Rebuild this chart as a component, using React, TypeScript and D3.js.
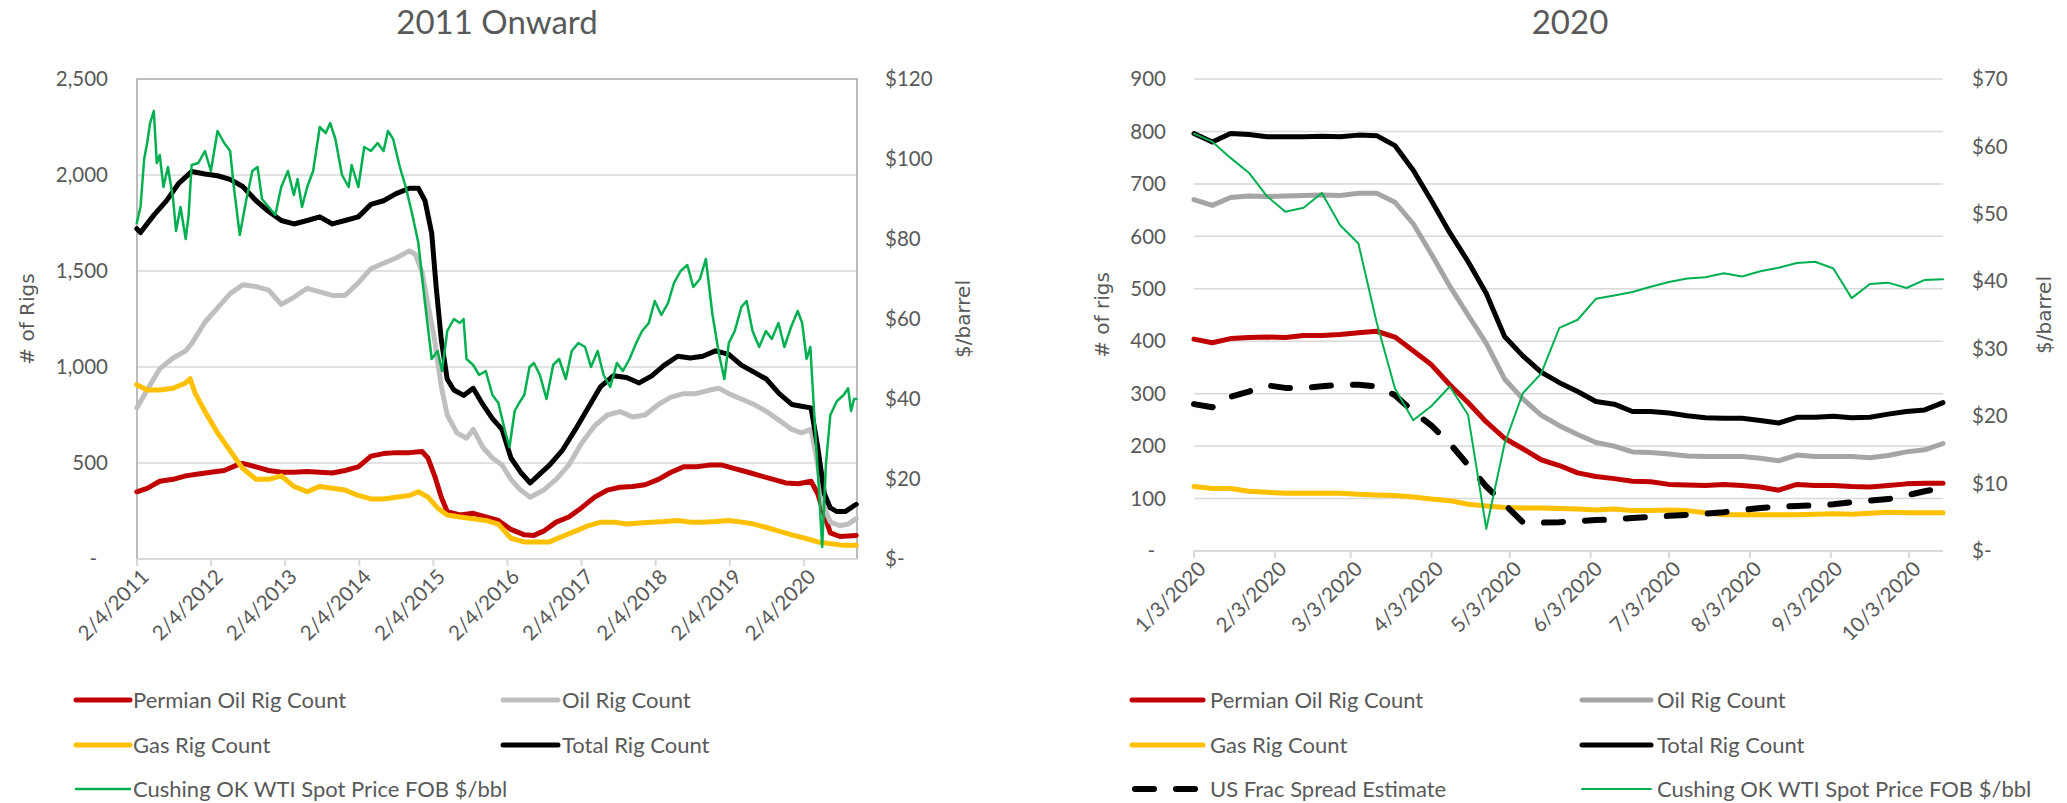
import React from 'react';
import * as d3 from 'd3';

// ---------- LEFT CHART DATA (decimal year, value) ----------
const leftYearTicks = [2011, 2012, 2013, 2014, 2015, 2016, 2017, 2018, 2019, 2020];
const leftYearTickLabels = ['2/4/2011', '2/4/2012', '2/4/2013', '2/4/2014', '2/4/2015', '2/4/2016', '2/4/2017', '2/4/2018', '2/4/2019', '2/4/2020'];
const leftRigTicks = [0, 500, 1000, 1500, 2000, 2500];
const leftRigTickLabels = ['-', '500', '1,000', '1,500', '2,000', '2,500'];
const leftPriceTicks = [0, 20, 40, 60, 80, 100, 120];
const leftPriceTickLabels = ['$-', '$20', '$40', '$60', '$80', '$100', '$120'];

const leftPermian: [number, number][] = [
  [2011.09, 350], [2011.23, 368], [2011.40, 405], [2011.58, 415], [2011.75, 433], [2011.92, 443],
  [2012.09, 452], [2012.27, 461], [2012.44, 489], [2012.52, 498], [2012.70, 480], [2012.87, 461],
  [2013.04, 452], [2013.21, 452], [2013.39, 456], [2013.56, 452], [2013.73, 448], [2013.90, 461],
  [2014.08, 480], [2014.25, 536], [2014.42, 549], [2014.59, 554], [2014.77, 554], [2014.94, 560],
  [2015.02, 526], [2015.11, 433], [2015.20, 322], [2015.28, 247], [2015.45, 229], [2015.63, 238],
  [2015.80, 219], [2015.97, 201], [2016.14, 154], [2016.32, 126], [2016.45, 123], [2016.58, 145],
  [2016.75, 192], [2016.92, 219], [2017.09, 266], [2017.27, 322], [2017.44, 359], [2017.61, 374],
  [2017.78, 378], [2017.95, 387], [2018.13, 415], [2018.30, 452], [2018.47, 480], [2018.64, 480],
  [2018.82, 489], [2018.99, 489], [2019.16, 471], [2019.34, 452], [2019.51, 433], [2019.68, 415],
  [2019.85, 396], [2020.02, 392], [2020.19, 405], [2020.28, 340], [2020.37, 229], [2020.45, 136],
  [2020.58, 117], [2020.80, 123],
];

const leftOil: [number, number][] = [
  [2011.09, 787], [2011.23, 880], [2011.40, 991], [2011.58, 1047], [2011.75, 1084], [2011.83, 1122],
  [2012.01, 1233], [2012.18, 1308], [2012.35, 1382], [2012.52, 1428], [2012.70, 1419], [2012.87, 1400],
  [2013.04, 1326], [2013.21, 1363], [2013.39, 1410], [2013.56, 1391], [2013.73, 1373], [2013.90, 1373],
  [2014.08, 1438], [2014.25, 1512], [2014.42, 1540], [2014.59, 1568], [2014.77, 1605], [2014.85, 1587],
  [2014.94, 1494], [2015.02, 1326], [2015.11, 1140], [2015.20, 898], [2015.28, 750], [2015.41, 657],
  [2015.54, 629], [2015.63, 675], [2015.76, 582], [2015.89, 526], [2016.02, 489], [2016.14, 415],
  [2016.27, 359], [2016.40, 322], [2016.58, 359], [2016.75, 415], [2016.92, 489], [2017.09, 601],
  [2017.27, 694], [2017.44, 750], [2017.61, 768], [2017.78, 740], [2017.95, 750], [2018.13, 805],
  [2018.30, 843], [2018.47, 861], [2018.64, 861], [2018.82, 880], [2018.95, 889], [2019.08, 861],
  [2019.25, 833], [2019.42, 805], [2019.59, 768], [2019.76, 722], [2019.93, 675], [2020.06, 657],
  [2020.19, 675], [2020.28, 489], [2020.37, 266], [2020.45, 192], [2020.58, 173], [2020.69, 182],
  [2020.80, 210],
];

const leftGas: [number, number][] = [
  [2011.09, 908], [2011.23, 880], [2011.40, 880], [2011.58, 889], [2011.75, 917], [2011.81, 939],
  [2011.88, 861], [2012.01, 768], [2012.18, 657], [2012.35, 564], [2012.52, 471], [2012.70, 415],
  [2012.87, 415], [2013.04, 433], [2013.21, 378], [2013.39, 350], [2013.56, 378], [2013.73, 368],
  [2013.90, 359], [2014.08, 331], [2014.25, 313], [2014.42, 313], [2014.59, 322], [2014.77, 331],
  [2014.89, 350], [2015.02, 322], [2015.15, 266], [2015.28, 229], [2015.45, 219], [2015.63, 210],
  [2015.80, 201], [2015.97, 182], [2016.14, 108], [2016.32, 89], [2016.49, 89], [2016.66, 89],
  [2016.83, 117], [2017.01, 145], [2017.18, 173], [2017.35, 192], [2017.52, 192], [2017.70, 182],
  [2017.87, 188], [2018.04, 192], [2018.21, 195], [2018.39, 201], [2018.56, 192], [2018.73, 192],
  [2018.90, 195], [2019.08, 201], [2019.25, 192], [2019.42, 182], [2019.59, 164], [2019.76, 145],
  [2019.93, 126], [2020.11, 108], [2020.28, 89], [2020.45, 80], [2020.63, 71], [2020.80, 71],
];

const leftTotal: [number, number][] = [
  [2011.09, 1720], [2011.14, 1700], [2011.32, 1791], [2011.49, 1865], [2011.66, 1958], [2011.83, 2018],
  [2012.01, 2005], [2012.18, 1996], [2012.35, 1977], [2012.52, 1940], [2012.70, 1866], [2012.87, 1810],
  [2013.04, 1763], [2013.21, 1745], [2013.39, 1763], [2013.56, 1782], [2013.73, 1745], [2013.90, 1763],
  [2014.08, 1782], [2014.25, 1847], [2014.42, 1866], [2014.59, 1903], [2014.77, 1931], [2014.89, 1931],
  [2014.98, 1866], [2015.07, 1698], [2015.13, 1419], [2015.20, 1140], [2015.28, 936], [2015.37, 880],
  [2015.50, 852], [2015.63, 889], [2015.76, 805], [2015.89, 731], [2016.02, 675], [2016.14, 526],
  [2016.27, 452], [2016.40, 396], [2016.53, 443], [2016.66, 489], [2016.83, 564], [2017.01, 675],
  [2017.18, 787], [2017.35, 898], [2017.52, 954], [2017.70, 945], [2017.87, 917], [2018.04, 954],
  [2018.21, 1010], [2018.39, 1056], [2018.56, 1047], [2018.73, 1056], [2018.90, 1084], [2019.08, 1066],
  [2019.25, 1010], [2019.42, 973], [2019.59, 936], [2019.76, 861], [2019.93, 805], [2020.06, 796],
  [2020.19, 787], [2020.28, 582], [2020.37, 340], [2020.45, 266], [2020.54, 247], [2020.65, 247],
  [2020.80, 285],
];

const leftWti: [number, number][] = [
  [2011.09, 84], [2011.14, 88], [2011.19, 100], [2011.23, 104], [2011.27, 109], [2011.32, 112],
  [2011.36, 99], [2011.40, 101], [2011.45, 93], [2011.51, 98], [2011.58, 90], [2011.62, 82],
  [2011.68, 88], [2011.75, 80], [2011.79, 86], [2011.83, 98.5], [2011.92, 99], [2012.01, 102],
  [2012.09, 97], [2012.18, 107], [2012.27, 104], [2012.35, 102], [2012.40, 93], [2012.48, 81],
  [2012.57, 90], [2012.65, 97], [2012.72, 98], [2012.78, 90], [2012.87, 88], [2012.96, 86],
  [2013.04, 93], [2013.13, 97], [2013.21, 91], [2013.26, 95], [2013.32, 88], [2013.39, 93],
  [2013.47, 97], [2013.56, 108], [2013.64, 106.5], [2013.70, 109], [2013.77, 105], [2013.86, 96],
  [2013.95, 93], [2013.99, 98.5], [2014.08, 93], [2014.16, 103], [2014.25, 102], [2014.34, 104],
  [2014.42, 102], [2014.48, 107], [2014.55, 105], [2014.64, 98], [2014.72, 93], [2014.81, 86],
  [2014.89, 79], [2014.98, 64], [2015.07, 50], [2015.15, 52], [2015.21, 47], [2015.28, 57],
  [2015.37, 60], [2015.45, 59], [2015.50, 60], [2015.54, 50], [2015.63, 48.5], [2015.71, 46],
  [2015.80, 47], [2015.89, 41], [2015.97, 39], [2016.06, 32], [2016.12, 28], [2016.19, 37],
  [2016.25, 39], [2016.32, 41], [2016.39, 48], [2016.45, 49], [2016.53, 46], [2016.62, 40],
  [2016.71, 48.5], [2016.79, 50], [2016.88, 45], [2016.96, 52], [2017.05, 54], [2017.14, 53],
  [2017.22, 48], [2017.31, 52], [2017.39, 46], [2017.48, 43], [2017.57, 49], [2017.65, 47],
  [2017.74, 50], [2017.83, 54], [2017.91, 57], [2018.00, 59], [2018.08, 64.5], [2018.17, 61],
  [2018.26, 64], [2018.34, 69], [2018.43, 72], [2018.52, 73.5], [2018.60, 68], [2018.69, 70],
  [2018.77, 75], [2018.86, 61], [2018.95, 51], [2019.02, 45], [2019.08, 54], [2019.16, 57],
  [2019.25, 63], [2019.32, 64.5], [2019.40, 57], [2019.49, 53], [2019.58, 57], [2019.66, 55],
  [2019.75, 59], [2019.83, 53], [2019.92, 58], [2020.01, 62], [2020.07, 59], [2020.13, 50],
  [2020.18, 53], [2020.24, 34], [2020.30, 16], [2020.34, 3], [2020.39, 23.5], [2020.45, 36],
  [2020.54, 39.5], [2020.63, 41], [2020.69, 42.7], [2020.73, 37], [2020.77, 40], [2020.80, 40],
];

// ---------- RIGHT CHART DATA (weekly 2020) ----------
const weeks2020 = [
  '2020-01-03', '2020-01-10', '2020-01-17', '2020-01-24', '2020-01-31', '2020-02-07', '2020-02-14',
  '2020-02-21', '2020-02-28', '2020-03-06', '2020-03-13', '2020-03-20', '2020-03-27', '2020-04-03',
  '2020-04-10', '2020-04-17', '2020-04-24', '2020-05-01', '2020-05-08', '2020-05-15', '2020-05-22',
  '2020-05-29', '2020-06-05', '2020-06-12', '2020-06-19', '2020-06-26', '2020-07-03', '2020-07-10',
  '2020-07-17', '2020-07-24', '2020-07-31', '2020-08-07', '2020-08-14', '2020-08-21', '2020-08-28',
  '2020-09-04', '2020-09-11', '2020-09-18', '2020-09-25', '2020-10-02', '2020-10-09', '2020-10-16',
];
const rightPermian = [404, 397, 405, 407, 408, 407, 411, 411, 413, 416, 419, 408, 382, 355, 317, 283, 246, 215, 195, 174, 163, 149, 142, 138, 133, 132, 127, 126, 125, 127, 125, 122, 116, 127, 125, 125, 123, 122, 125, 128, 129, 129];
const rightOil = [670, 659, 674, 677, 676, 677, 678, 679, 678, 682, 682, 665, 624, 566, 505, 450, 396, 328, 290, 259, 239, 222, 207, 200, 189, 188, 185, 181, 180, 180, 180, 177, 172, 183, 180, 180, 180, 178, 182, 189, 193, 205];
const rightGas = [123, 119, 119, 114, 112, 110, 110, 110, 110, 108, 107, 106, 103, 99, 96, 89, 86, 83, 82, 82, 81, 80, 78, 80, 77, 77, 78, 77, 73, 69, 69, 69, 69, 69, 70, 71, 70, 72, 74, 73, 73, 73];
const rightTotal = [796, 780, 796, 794, 790, 790, 790, 791, 790, 793, 792, 773, 726, 668, 607, 552, 491, 409, 372, 341, 321, 304, 285, 280, 266, 266, 263, 258, 254, 253, 253, 249, 244, 255, 255, 257, 254, 255, 261, 266, 269, 283];
const rightFrac = [280, 274, 294, 304, 316, 311, 311, 314, 317, 317, 314, 297, 266, 239, 205, 164, 123, 89, 55, 54, 55, 57, 59, 60, 63, 65, 67, 69, 71, 74, 78, 82, 84, 86, 87, 89, 93, 96, 99, 106, 114, 120];
const rightWti = [61.9, 60.7, 58.3, 56.1, 52.6, 50.3, 50.9, 53.1, 48.3, 45.6, 33.9, 24.1, 19.4, 21.5, 24.4, 20.2, 3.3, 15.9, 23.4, 26.3, 33.1, 34.3, 37.4, 37.9, 38.4, 39.2, 39.9, 40.4, 40.6, 41.2, 40.7, 41.5, 42.0, 42.7, 42.9, 41.9, 37.5, 39.6, 39.8, 39.0, 40.2, 40.3];

const rightMonthTicks = ['2020-01-03', '2020-02-03', '2020-03-03', '2020-04-03', '2020-05-03', '2020-06-03', '2020-07-03', '2020-08-03', '2020-09-03', '2020-10-03'];
const rightMonthTickLabels = ['1/3/2020', '2/3/2020', '3/3/2020', '4/3/2020', '5/3/2020', '6/3/2020', '7/3/2020', '8/3/2020', '9/3/2020', '10/3/2020'];
const rightRigTicks = [0, 100, 200, 300, 400, 500, 600, 700, 800, 900];
const rightRigTickLabels = ['-', '100', '200', '300', '400', '500', '600', '700', '800', '900'];
const rightPriceTicks = [0, 10, 20, 30, 40, 50, 60, 70];
const rightPriceTickLabels = ['$-', '$10', '$20', '$30', '$40', '$50', '$60', '$70'];

const COLORS = {
  permian: '#c00000',
  oilLeft: '#bfbfbf',
  oilRight: '#a5a5a5',
  gas: '#ffc000',
  total: '#000000',
  wti: '#00b050',
  text: '#595959',
  grid: '#d9d9d9',
  border: '#a6a6a6',
};

const FONT = 'Lato, "Open Sans", sans-serif';
const TITLE_FONT = '"DejaVu Sans", Verdana, sans-serif';

export default function App() {
  const parse = d3.timeParse('%Y-%m-%d');
  const weekDates = weeks2020.map((s) => parse(s) as Date);

  // Left scales
  const xL = d3.scaleLinear().domain([2011.093, 2020.81]).range([137, 857]);
  const yL = d3.scaleLinear().domain([0, 2500]).range([559, 79]);
  const yL2 = d3.scaleLinear().domain([0, 120]).range([559, 79]);

  // Right scales
  const xR = d3.scaleTime().domain([parse('2020-01-03') as Date, parse('2020-10-16') as Date]).range([1194, 1943]);
  const yR = d3.scaleLinear().domain([0, 900]).range([551, 79]);
  const yR2 = d3.scaleLinear().domain([0, 70]).range([551, 79]);

  const lineL = d3.line<[number, number]>().x((d) => xL(d[0])).y((d) => yL(d[1]));
  const lineL2 = d3.line<[number, number]>().x((d) => xL(d[0])).y((d) => yL2(d[1]));
  const lineR = (vals: number[]) =>
    d3.line<number>().x((_, i) => xR(weekDates[i])).y((d) => yR(d))(vals) || '';
  const lineR2 = (vals: number[]) =>
    d3.line<number>().x((_, i) => xR(weekDates[i])).y((d) => yR2(d))(vals) || '';

  const thick = 5;

  const legendItem = (x1: number, x2: number, tx: number, y: number, color: string, w: number, label: string, dash?: string) => (
    <g key={label + x1}>
      <line x1={x1} x2={x2} y1={y} y2={y} stroke={color} strokeWidth={w} strokeLinecap="round" strokeDasharray={dash} />
      <text x={tx} y={y} dy="0.35em" fontSize={22} fill={COLORS.text} fontFamily={FONT}>{label}</text>
    </g>
  );

  return (
    <svg width={2067} height={803} style={{ position: 'absolute', left: 0, top: 0, background: '#fff' }}>
      <rect x={0} y={0} width={2067} height={803} fill="#fff" />

      {/* ================= LEFT CHART ================= */}
      <text x={497} y={34} textAnchor="middle" fontSize={33} fill={COLORS.text} fontFamily={FONT}>2011 Onward</text>

      {leftRigTicks.slice(1, -1).map((v) => (
        <line key={'lg' + v} x1={137} x2={857} y1={yL(v)} y2={yL(v)} stroke={COLORS.grid} strokeWidth={1.5} />
      ))}
      <path d={`M137,559 V79 H857 V559`} fill="none" stroke={COLORS.border} strokeWidth={1.5} />
      <line x1={137} x2={857} y1={559} y2={559} stroke={COLORS.grid} strokeWidth={2} />
      {leftYearTicks.map((yr) => (
        <line key={'lt' + yr} x1={xL(yr + 0.093)} x2={xL(yr + 0.093)} y1={559} y2={566} stroke={COLORS.grid} strokeWidth={2} />
      ))}
      {leftYearTicks.map((yr, i) => (
        <text key={'ltl' + yr} transform={`translate(${xL(yr + 0.093) + 8},${573}) rotate(-45)`} textAnchor="end" dy="0.35em"
          fontSize={20.5} fill={COLORS.text} fontFamily={FONT}>{leftYearTickLabels[i]}</text>
      ))}
      {leftRigTicks.map((v, i) => (
        <text key={'lyl' + v} x={v === 0 ? 97 : 108} y={yL(v)} dy="0.35em" textAnchor="end" fontSize={20.5} fill={COLORS.text} fontFamily={FONT}>{leftRigTickLabels[i]}</text>
      ))}
      {leftPriceTicks.map((v, i) => (
        <text key={'lpl' + v} x={885} y={yL2(v)} dy="0.35em" textAnchor="start" fontSize={20.5} fill={COLORS.text} fontFamily={FONT}>{leftPriceTickLabels[i]}</text>
      ))}
      <text transform="translate(27,319) rotate(-90)" textAnchor="middle" dy="0.35em" fontSize={20} fill={COLORS.text} fontFamily={TITLE_FONT}># of Rigs</text>
      <text transform="translate(963,319) rotate(-90)" textAnchor="middle" dy="0.35em" fontSize={20} fill={COLORS.text} fontFamily={TITLE_FONT}>$/barrel</text>

      <g fill="none" strokeLinejoin="round" strokeLinecap="round">
        <path d={lineL(leftPermian) || ''} stroke={COLORS.permian} strokeWidth={thick} />
        <path d={lineL(leftOil) || ''} stroke={COLORS.oilLeft} strokeWidth={thick} />
        <path d={lineL(leftGas) || ''} stroke={COLORS.gas} strokeWidth={thick} />
        <path d={lineL(leftTotal) || ''} stroke={COLORS.total} strokeWidth={thick} />
        <path d={lineL2(leftWti) || ''} stroke={COLORS.wti} strokeWidth={2.5} />
      </g>

      {legendItem(76, 130, 133, 700, COLORS.permian, 5, 'Permian Oil Rig Count')}
      {legendItem(503, 558, 562, 700, COLORS.oilLeft, 5, 'Oil Rig Count')}
      {legendItem(76, 130, 133, 745, COLORS.gas, 5, 'Gas Rig Count')}
      {legendItem(503, 558, 562, 745, COLORS.total, 5, 'Total Rig Count')}
      {legendItem(76, 130, 133, 789, COLORS.wti, 2.5, 'Cushing OK WTI Spot Price FOB $/bbl')}

      {/* ================= RIGHT CHART ================= */}
      <text x={1570} y={34} textAnchor="middle" fontSize={33} fill={COLORS.text} fontFamily={FONT}>2020</text>

      {rightRigTicks.slice(1).map((v) => (
        <line key={'rg' + v} x1={1194} x2={1943} y1={yR(v)} y2={yR(v)} stroke={COLORS.grid} strokeWidth={1.5} />
      ))}
      <line x1={1194} x2={1943} y1={551} y2={551} stroke={COLORS.grid} strokeWidth={2} />
      {rightMonthTicks.map((s) => (
        <line key={'rt' + s} x1={xR(parse(s) as Date)} x2={xR(parse(s) as Date)} y1={551} y2={558} stroke={COLORS.grid} strokeWidth={2} />
      ))}
      {rightMonthTicks.map((s, i) => (
        <text key={'rtl' + s} transform={`translate(${xR(parse(s) as Date) + 8},${565}) rotate(-45)`} textAnchor="end" dy="0.35em"
          fontSize={20.5} fill={COLORS.text} fontFamily={FONT}>{rightMonthTickLabels[i]}</text>
      ))}
      {rightRigTicks.map((v, i) => (
        <text key={'ryl' + v} x={v === 0 ? 1155 : 1166} y={yR(v)} dy="0.35em" textAnchor="end" fontSize={20.5} fill={COLORS.text} fontFamily={FONT}>{rightRigTickLabels[i]}</text>
      ))}
      {rightPriceTicks.map((v, i) => (
        <text key={'rpl' + v} x={1972} y={yR2(v)} dy="0.35em" textAnchor="start" fontSize={20.5} fill={COLORS.text} fontFamily={FONT}>{rightPriceTickLabels[i]}</text>
      ))}
      <text transform="translate(1102,315) rotate(-90)" textAnchor="middle" dy="0.35em" fontSize={20} fill={COLORS.text} fontFamily={TITLE_FONT}># of rigs</text>
      <text transform="translate(2044,315) rotate(-90)" textAnchor="middle" dy="0.35em" fontSize={20} fill={COLORS.text} fontFamily={TITLE_FONT}>$/barrel</text>

      <g fill="none" strokeLinejoin="round" strokeLinecap="round">
        <path d={lineR(rightPermian)} stroke={COLORS.permian} strokeWidth={thick} />
        <path d={lineR(rightOil)} stroke={COLORS.oilRight} strokeWidth={thick} />
        <path d={lineR(rightGas)} stroke={COLORS.gas} strokeWidth={thick} />
        <path d={lineR(rightTotal)} stroke={COLORS.total} strokeWidth={thick} />
        <path d={lineR(rightFrac)} stroke={COLORS.total} strokeWidth={6} strokeDasharray="19,22" />
        <path d={lineR2(rightWti)} stroke={COLORS.wti} strokeWidth={2} />
      </g>

      {legendItem(1132, 1203, 1210, 700, COLORS.permian, 5, 'Permian Oil Rig Count')}
      {legendItem(1582, 1651, 1657, 700, COLORS.oilRight, 5, 'Oil Rig Count')}
      {legendItem(1132, 1203, 1210, 745, COLORS.gas, 5, 'Gas Rig Count')}
      {legendItem(1582, 1651, 1657, 745, COLORS.total, 5, 'Total Rig Count')}
      {legendItem(1135, 1200, 1210, 789, COLORS.total, 6, 'US Frac Spread Estimate', '19,22')}
      {legendItem(1582, 1651, 1657, 789, COLORS.wti, 2, 'Cushing OK WTI Spot Price FOB $/bbl')}
    </svg>
  );
}
